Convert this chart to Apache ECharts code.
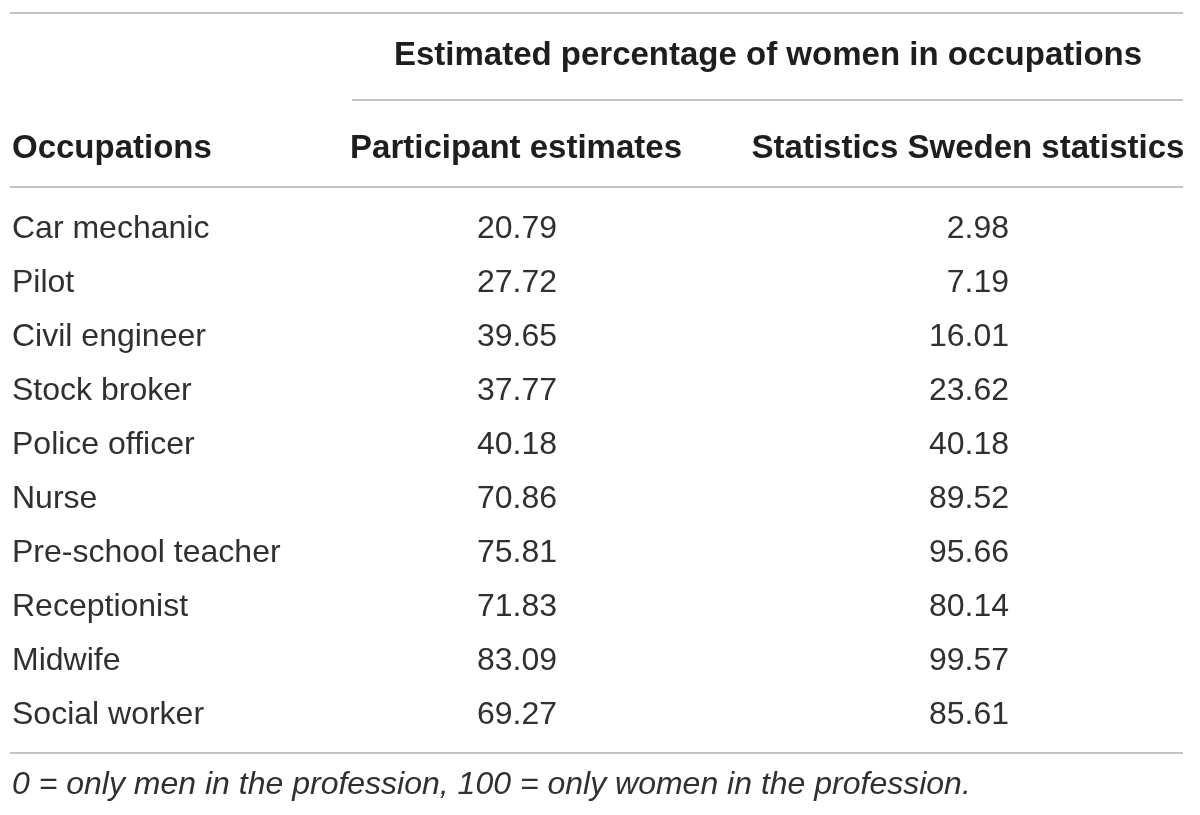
<!DOCTYPE html>
<html>
<head>
<meta charset="utf-8">
<script src="https://cdn.jsdelivr.net/npm/echarts@6/dist/echarts.min.js"></script>
<style>html,body{margin:0;padding:0;background:#fff}#c{width:1200px;height:815px}</style>
</head>
<body>
<div id="c"></div>
<script>
const occupations = ['Car mechanic','Pilot','Civil engineer','Stock broker','Police officer','Nurse','Pre-school teacher','Receptionist','Midwife','Social worker'];
const columns = ['Participant estimates','Statistics Sweden statistics'];
const participantEstimates = [20.79,27.72,39.65,37.77,40.18,70.86,75.81,71.83,83.09,69.27];
const swedenStatistics = [2.98,7.19,16.01,23.62,40.18,89.52,95.66,80.14,99.57,85.61];
const groupHeader = 'Estimated percentage of women in occupations';
const rowHeader = 'Occupations';
const footnote = '0 = only men in the profession, 100 = only women in the profession.';

const FONT = '"Liberation Sans", Arial, Helvetica, sans-serif';
const TXT = '#303030';
const HEAD = '#1e1e1e';
const RULE = '#c4c4c4';
const BODY = 32;
const BOLD = 33;

function cellSeries(values, col) {
  return {
    type: 'scatter',
    symbolSize: 1,
    itemStyle: { color: 'rgba(0,0,0,0)', opacity: 1 },
    silent: true,
    data: values.map((v, i) => [col, i, v]),
    label: {
      show: true,
      position: 'inside',
      align: 'right',
      verticalAlign: 'middle',
      offset: [41, 0],
      fontFamily: FONT,
      fontSize: BODY,
      color: TXT,
      opacity: 1,
      formatter: p => p.value[2].toFixed(2)
    }
  };
}

const chart = echarts.init(document.getElementById('c'));
chart.setOption({
  animation: false,
  backgroundColor: '#fff',
  grid: { left: 290, right: 6, top: 202, height: 540 },
  xAxis: {
    type: 'category',
    position: 'top',
    data: columns,
    axisLine: { show: false },
    axisTick: { show: false },
    splitLine: { show: false },
    axisLabel: {
      interval: 0,
      hideOverlap: false,
      margin: 53,
      verticalAlign: 'middle',
      fontFamily: FONT,
      fontWeight: 'bold',
      fontSize: BOLD,
      color: HEAD
    }
  },
  yAxis: {
    type: 'category',
    inverse: true,
    data: occupations,
    axisLine: { show: false },
    axisTick: { show: false },
    splitLine: { show: false },
    axisLabel: {
      interval: 0,
      align: 'left',
      margin: 278,
      fontFamily: FONT,
      fontSize: BODY,
      color: TXT
    }
  },
  series: [cellSeries(participantEstimates, 0), cellSeries(swedenStatistics, 1)],
  graphic: [
    { type: 'line', shape: { x1: 10, y1: 13, x2: 1183, y2: 13 }, style: { stroke: RULE, lineWidth: 2 } },
    { type: 'line', shape: { x1: 352, y1: 100, x2: 1183, y2: 100 }, style: { stroke: RULE, lineWidth: 2 } },
    { type: 'line', shape: { x1: 10, y1: 187, x2: 1183, y2: 187 }, style: { stroke: RULE, lineWidth: 2 } },
    { type: 'line', shape: { x1: 10, y1: 753, x2: 1183, y2: 753 }, style: { stroke: RULE, lineWidth: 2 } },
    { type: 'text', x: 768, y: 56, style: { text: groupHeader, fontFamily: FONT, fontWeight: 'bold', fontSize: BOLD, fill: HEAD, align: 'center', verticalAlign: 'middle' } },
    { type: 'text', x: 12, y: 149, style: { text: rowHeader, fontFamily: FONT, fontWeight: 'bold', fontSize: BOLD, fill: HEAD, align: 'left', verticalAlign: 'middle' } },
    { type: 'text', x: 12, y: 785, style: { text: footnote, fontFamily: FONT, fontStyle: 'italic', fontSize: BODY, fill: TXT, align: 'left', verticalAlign: 'middle' } }
  ]
});
</script>
</body>
</html>
